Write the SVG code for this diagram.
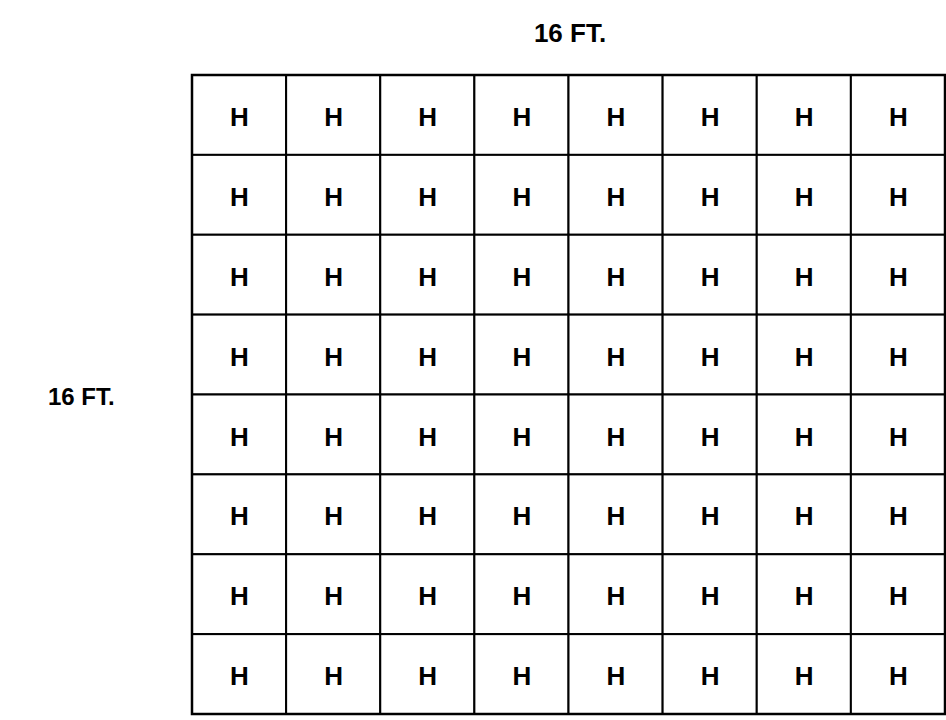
<svg xmlns="http://www.w3.org/2000/svg" width="946" height="720" viewBox="0 0 946 720">
<style>
.cell{fill:#fff;stroke:#000;stroke-width:2}
.h{font-family:"Liberation Sans",Arial,sans-serif;font-weight:bold;font-size:26px;text-anchor:middle;fill:#000}
.lbl{font-family:"Liberation Sans",Arial,sans-serif;font-weight:bold;fill:#000}
</style>
<rect width="946" height="720" fill="#fff"/>
<g id="label-top"><text class="lbl" x="570" y="42" font-size="26" text-anchor="middle">16 FT.</text></g>
<g id="label-left"><text class="lbl" x="48" y="405" font-size="24" letter-spacing="0">16 FT.</text></g>
<defs>
<g id="c"><rect class="cell" x="0" y="0" width="94.125" height="79.875"/><text class="h" x="47.5" y="51">H</text></g>
</defs>
<g id="grid">
<g id="r0"><use href="#c" x="192" y="75"/><use href="#c" x="286.125" y="75"/><use href="#c" x="380.25" y="75"/><use href="#c" x="474.375" y="75"/><use href="#c" x="568.5" y="75"/><use href="#c" x="662.625" y="75"/><use href="#c" x="756.75" y="75"/><use href="#c" x="850.875" y="75"/></g>
<g id="r1"><use href="#c" x="192" y="154.875"/><use href="#c" x="286.125" y="154.875"/><use href="#c" x="380.25" y="154.875"/><use href="#c" x="474.375" y="154.875"/><use href="#c" x="568.5" y="154.875"/><use href="#c" x="662.625" y="154.875"/><use href="#c" x="756.75" y="154.875"/><use href="#c" x="850.875" y="154.875"/></g>
<g id="r2"><use href="#c" x="192" y="234.75"/><use href="#c" x="286.125" y="234.75"/><use href="#c" x="380.25" y="234.75"/><use href="#c" x="474.375" y="234.75"/><use href="#c" x="568.5" y="234.75"/><use href="#c" x="662.625" y="234.75"/><use href="#c" x="756.75" y="234.75"/><use href="#c" x="850.875" y="234.75"/></g>
<g id="r3"><use href="#c" x="192" y="314.625"/><use href="#c" x="286.125" y="314.625"/><use href="#c" x="380.25" y="314.625"/><use href="#c" x="474.375" y="314.625"/><use href="#c" x="568.5" y="314.625"/><use href="#c" x="662.625" y="314.625"/><use href="#c" x="756.75" y="314.625"/><use href="#c" x="850.875" y="314.625"/></g>
<g id="r4"><use href="#c" x="192" y="394.5"/><use href="#c" x="286.125" y="394.5"/><use href="#c" x="380.25" y="394.5"/><use href="#c" x="474.375" y="394.5"/><use href="#c" x="568.5" y="394.5"/><use href="#c" x="662.625" y="394.5"/><use href="#c" x="756.75" y="394.5"/><use href="#c" x="850.875" y="394.5"/></g>
<g id="r5"><use href="#c" x="192" y="474.375"/><use href="#c" x="286.125" y="474.375"/><use href="#c" x="380.25" y="474.375"/><use href="#c" x="474.375" y="474.375"/><use href="#c" x="568.5" y="474.375"/><use href="#c" x="662.625" y="474.375"/><use href="#c" x="756.75" y="474.375"/><use href="#c" x="850.875" y="474.375"/></g>
<g id="r6"><use href="#c" x="192" y="554.25"/><use href="#c" x="286.125" y="554.25"/><use href="#c" x="380.25" y="554.25"/><use href="#c" x="474.375" y="554.25"/><use href="#c" x="568.5" y="554.25"/><use href="#c" x="662.625" y="554.25"/><use href="#c" x="756.75" y="554.25"/><use href="#c" x="850.875" y="554.25"/></g>
<g id="r7"><use href="#c" x="192" y="634.125"/><use href="#c" x="286.125" y="634.125"/><use href="#c" x="380.25" y="634.125"/><use href="#c" x="474.375" y="634.125"/><use href="#c" x="568.5" y="634.125"/><use href="#c" x="662.625" y="634.125"/><use href="#c" x="756.75" y="634.125"/><use href="#c" x="850.875" y="634.125"/></g>
<rect x="192" y="75" width="753" height="639" fill="none" stroke="#000" stroke-width="2.5"/>
</g>
</svg>
